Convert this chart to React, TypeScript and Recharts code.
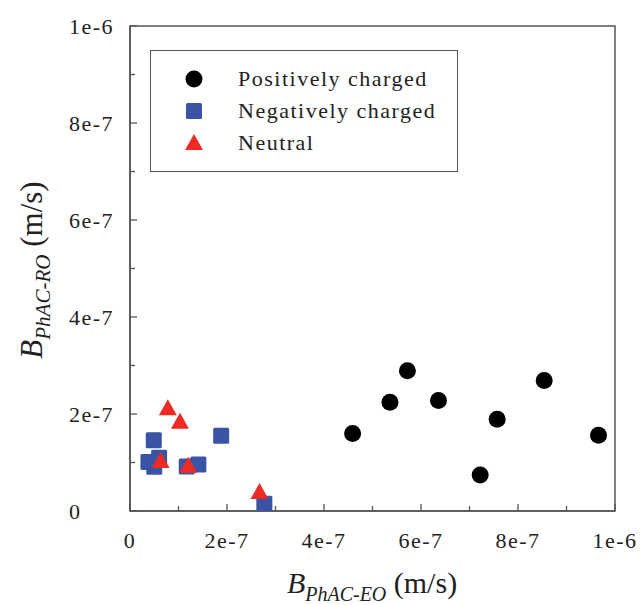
import React from "react";
import {
  ScatterChart,
  Scatter,
  XAxis,
  YAxis,
  ReferenceArea,
} from "recharts";

// B_PhAC-EO (x) vs B_PhAC-RO (y), m/s
const positiveX = [4.59e-7, 5.36e-7, 5.72e-7, 6.36e-7, 7.22e-7, 7.57e-7, 8.54e-7, 9.66e-7];
const positiveY = [1.6e-7, 2.24e-7, 2.89e-7, 2.28e-7, 0.74e-7, 1.89e-7, 2.69e-7, 1.56e-7];

const negativeX = [0.49e-7, 0.38e-7, 0.6e-7, 0.5e-7, 1.17e-7, 1.41e-7, 1.88e-7, 2.77e-7];
const negativeY = [1.46e-7, 1.01e-7, 1.1e-7, 0.91e-7, 0.92e-7, 0.96e-7, 1.55e-7, 0.15e-7];

const neutralX = [0.78e-7, 1.03e-7, 0.63e-7, 1.2e-7, 2.67e-7];
const neutralY = [2.1e-7, 1.82e-7, 1.01e-7, 0.91e-7, 0.37e-7];

const axisTicks = [0, 1e-7, 2e-7, 3e-7, 4e-7, 5e-7, 6e-7, 7e-7, 8e-7, 9e-7, 1e-6];
const tickLabels = ["0", "", "2e-7", "", "4e-7", "", "6e-7", "", "8e-7", "", "1e-6"];

const seriesNames = ["Positively charged", "Negatively charged", "Neutral"];

const BLUE = "#3a54a5";
const RED = "#ee2a24";
const AXIS = "#555";
const FONT = "'Liberation Serif', 'Times New Roman', serif";

const toPoints = (xs: number[], ys: number[]) => xs.map((x, i) => ({ x, y: ys[i] }));

const positiveData = toPoints(positiveX, positiveY);
const negativeData = toPoints(negativeX, negativeY);
const neutralData = toPoints(neutralX, neutralY);

const CircleDot = ({ cx, cy }: any) => <circle cx={cx} cy={cy} r={8.5} fill="#000" />;
const SquareDot = ({ cx, cy }: any) => (
  <rect x={cx - 8} y={cy - 8} width={16} height={16} rx={1.5} fill={BLUE} />
);
const TriangleDot = ({ cx, cy }: any) => (
  <polygon
    points={`${cx},${cy - 10} ${cx + 9},${cy + 6} ${cx - 9},${cy + 6}`}
    fill={RED}
  />
);

const TICK_MARGIN = 10;

const XTick = ({ x, y, index }: any) => {
  const label = tickLabels[index];
  const axisY = y - TICK_MARGIN;
  return (
    <g>
      <line x1={x} y1={axisY} x2={x} y2={axisY - (label ? 7 : 5)} stroke={AXIS} strokeWidth={1.3} />
      {label && (
        <text x={x} y={axisY + 37} textAnchor="middle" fontSize={22} letterSpacing={1.5} fill="#222" fontFamily={FONT}>
          {label}
        </text>
      )}
    </g>
  );
};

const YTick = ({ x, y, index }: any) => {
  const label = tickLabels[index];
  const axisX = x + TICK_MARGIN;
  return (
    <g>
      <line x1={axisX} y1={y} x2={axisX + (label ? 7 : 5)} y2={y} stroke={AXIS} strokeWidth={1.3} />
      {label && (
        <text x={69} y={y + 7.5} textAnchor="start" fontSize={22} letterSpacing={1.5} fill="#222" fontFamily={FONT}>
          {label}
        </text>
      )}
    </g>
  );
};

const XLabel = () => (
  <text x={372} y={593} textAnchor="middle" fontFamily={FONT} fill="#222">
    <tspan fontStyle="italic" fontSize={30}>B</tspan>
    <tspan fontStyle="italic" fontSize={20} dy={8}>PhAC-EO</tspan>
    <tspan fontSize={30} dy={-8}> (m/s)</tspan>
  </text>
);

const YLabel = () => (
  <text
    x={0}
    y={0}
    transform="translate(42, 270) rotate(-90)"
    textAnchor="middle"
    fontFamily={FONT}
    fill="#222"
  >
    <tspan fontStyle="italic" fontSize={31}>B</tspan>
    <tspan fontStyle="italic" fontSize={21} dy={8}>PhAC-RO</tspan>
    <tspan fontSize={31} dy={-8}> (m/s)</tspan>
  </text>
);

const LegendBox = () => (
  <div
    style={{
      position: "absolute",
      left: 150,
      top: 50,
      width: 306,
      height: 120,
      border: `1.5px solid ${AXIS}`,
      background: "#fff",
    }}
  >
    <svg width={306} height={120} style={{ position: "absolute", left: 0, top: 0 }}>
      <CircleDot cx={43} cy={28} />
      <SquareDot cx={43} cy={60} />
      <TriangleDot cx={43} cy={93} />
      {seriesNames.map((name, i) => (
        <text key={name} x={87} y={35 + i * 32} fontSize={22} letterSpacing={1.5} fill="#222" fontFamily={FONT}>
          {name}
        </text>
      ))}
    </svg>
  </div>
);

export default function App() {
  return (
    <div style={{ position: "absolute", left: 0, top: 0, width: 641, height: 605, background: "#fff" }}>
      <ScatterChart
        width={641}
        height={605}
        margin={{ top: 26, right: 26, bottom: 34, left: 0 }}
      >
        <XAxis
          type="number"
          dataKey="x"
          domain={[0, 1e-6]}
          ticks={axisTicks}
          interval={0}
          allowDataOverflow
          height={60}
          tickSize={0}
          tickMargin={TICK_MARGIN}
          tick={<XTick />}
          axisLine={{ stroke: AXIS, strokeWidth: 1.5 }}
          label={<XLabel />}
        />
        <YAxis
          type="number"
          dataKey="y"
          domain={[0, 1e-6]}
          ticks={axisTicks}
          interval={0}
          allowDataOverflow
          width={130}
          tickSize={0}
          tickMargin={TICK_MARGIN}
          tick={<YTick />}
          axisLine={{ stroke: AXIS, strokeWidth: 1.5 }}
          label={<YLabel />}
        />
        <ReferenceArea
          x1={0}
          x2={1e-6}
          y1={0}
          y2={1e-6}
          fill="none"
          stroke={AXIS}
          strokeWidth={1.5}
          ifOverflow="visible"
        />
        <Scatter name={seriesNames[0]} data={positiveData} shape={<CircleDot />} isAnimationActive={false} />
        <Scatter name={seriesNames[1]} data={negativeData} shape={<SquareDot />} isAnimationActive={false} />
        <Scatter name={seriesNames[2]} data={neutralData} shape={<TriangleDot />} isAnimationActive={false} />
      </ScatterChart>
      <LegendBox />
    </div>
  );
}
